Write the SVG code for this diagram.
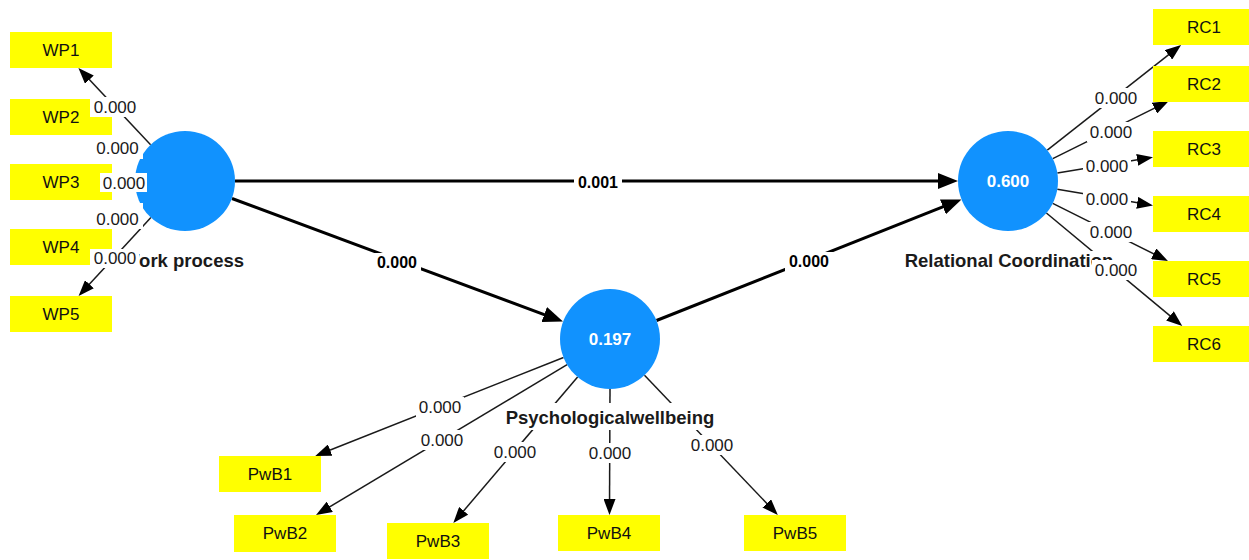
<svg xmlns="http://www.w3.org/2000/svg" width="1249" height="560" viewBox="0 0 1249 560">
<style>
text{font-family:"Liberation Sans",Arial,sans-serif}
.ind{fill:#ffff00}
.it{font-size:17px;fill:#111;text-anchor:middle}
.lv{fill:#1192fe}
.lvt{font-size:17px;font-weight:bold;fill:#fff;text-anchor:middle}
.nm{font-size:18.5px;font-weight:bold;fill:#1a1a1a;text-anchor:middle}
.thin{stroke:#1a1a1a;stroke-width:1.5;fill:none;marker-end:url(#ah)}
.thick{stroke:#000;stroke-width:3;fill:none;marker-end:url(#ahb)}
.bg{fill:#fff}
.lt{font-size:17px;fill:#1a1a1a;text-anchor:middle}
.ltb{font-size:16px;font-weight:bold;fill:#000;text-anchor:middle}
</style>
<defs>
<marker id="ah" markerUnits="userSpaceOnUse" markerWidth="16" markerHeight="12" refX="8" refY="6" orient="auto"><path d="M0,0 L16,6 L0,12 z" fill="#000"/></marker>
<marker id="ahb" markerUnits="userSpaceOnUse" markerWidth="20" markerHeight="16" refX="10" refY="8" orient="auto"><path d="M0,0 L20,8 L0,16 z" fill="#000"/></marker>
</defs>
<rect width="1249" height="560" fill="#fff"/>
<g id="connectors">
<line class="thick" x1="235" y1="181" x2="948" y2="181"/>
<line class="thick" x1="232" y1="198.5" x2="553.6" y2="318.1"/>
<line class="thick" x1="656.5" y1="320.5" x2="952.2" y2="203.2"/>
<line class="thin" x1="150.6" y1="144.7" x2="83.9" y2="73.8"/>
<line class="thin" x1="140.6" y1="158.1" x2="119.1" y2="147"/>
<line class="thin" x1="135" y1="181.4" x2="120" y2="181.5"/>
<line class="thin" x1="140.9" y1="204.5" x2="119.1" y2="216.1"/>
<line class="thin" x1="150.9" y1="217.6" x2="84" y2="290.1"/>
<line class="thin" x1="1047.3" y1="150.1" x2="1174.8" y2="49.9"/>
<line class="thin" x1="1052.8" y1="158.7" x2="1161.6" y2="104.6"/>
<line class="thin" x1="1057.4" y1="172.9" x2="1145.1" y2="158.6"/>
<line class="thin" x1="1057.3" y1="189.3" x2="1145.1" y2="204.1"/>
<line class="thin" x1="1052.7" y1="203.4" x2="1160.8" y2="257.4"/>
<line class="thin" x1="1046.4" y1="213" x2="1176.1" y2="320.9"/>
<line class="thin" x1="563.5" y1="357.5" x2="322.7" y2="453"/>
<line class="thin" x1="567.1" y1="364.7" x2="322.9" y2="510.9"/>
<line class="thin" x1="577.6" y1="377" x2="458.5" y2="516.9"/>
<line class="thin" x1="610" y1="389" x2="609.5" y2="507"/>
<line class="thin" x1="644.5" y1="375.2" x2="772.3" y2="509.2"/>
</g>
<g id="work-process">
<circle class="lv" cx="185" cy="181" r="50"/>
<text class="nm" x="183" y="267">Work process</text>
</g>
<g id="relational-coordination">
<circle class="lv" cx="1008" cy="181" r="50"/>
<text class="lvt" x="1008" y="187">0.600</text>
<rect class="bg" x="903" y="251" width="212" height="21"/>
<text class="nm" x="1009" y="267">Relational Coordination</text>
</g>
<g id="psychologicalwellbeing">
<circle class="lv" cx="610" cy="339" r="50"/>
<text class="lvt" x="610" y="345">0.197</text>
<rect class="bg" x="505" y="403" width="212" height="27"/>
<text class="nm" x="610" y="424">Psychologicalwellbeing</text>
</g>
<g id="WP1"><rect class="ind" x="10" y="32" width="102" height="36"/><text class="it" x="61" y="56">WP1</text></g>
<g id="WP2"><rect class="ind" x="10" y="99" width="102" height="36"/><text class="it" x="61" y="123">WP2</text></g>
<g id="WP3"><rect class="ind" x="10" y="164" width="102" height="36"/><text class="it" x="61" y="188">WP3</text></g>
<g id="WP4"><rect class="ind" x="10" y="229" width="102" height="36"/><text class="it" x="61" y="253">WP4</text></g>
<g id="WP5"><rect class="ind" x="10" y="296" width="102" height="36"/><text class="it" x="61" y="320">WP5</text></g>
<g id="RC1"><rect class="ind" x="1153" y="9" width="102" height="36"/><text class="it" x="1204" y="33">RC1</text></g>
<g id="RC2"><rect class="ind" x="1153" y="66" width="102" height="36"/><text class="it" x="1204" y="90">RC2</text></g>
<g id="RC3"><rect class="ind" x="1153" y="131" width="102" height="36"/><text class="it" x="1204" y="155">RC3</text></g>
<g id="RC4"><rect class="ind" x="1153" y="196" width="102" height="36"/><text class="it" x="1204" y="220">RC4</text></g>
<g id="RC5"><rect class="ind" x="1153" y="261" width="102" height="36"/><text class="it" x="1204" y="285">RC5</text></g>
<g id="RC6"><rect class="ind" x="1153" y="326" width="102" height="36"/><text class="it" x="1204" y="350">RC6</text></g>
<g id="PwB1"><rect class="ind" x="219" y="456" width="102" height="36"/><text class="it" x="270" y="480">PwB1</text></g>
<g id="PwB2"><rect class="ind" x="234" y="515" width="102" height="37"/><text class="it" x="285" y="539">PwB2</text></g>
<g id="PwB3"><rect class="ind" x="387" y="523" width="102" height="36"/><text class="it" x="438" y="547">PwB3</text></g>
<g id="PwB4"><rect class="ind" x="558" y="515" width="102" height="36"/><text class="it" x="609" y="539">PwB4</text></g>
<g id="PwB5"><rect class="ind" x="744" y="515" width="102" height="36"/><text class="it" x="795" y="539">PwB5</text></g>
<g id="connector-labels">
<rect class="bg" x="574" y="172" width="48" height="20"/><text class="ltb" x="598" y="188">0.001</text>
<rect class="bg" x="373" y="253" width="48" height="20"/><text class="ltb" x="397" y="268">0.000</text>
<rect class="bg" x="785" y="252" width="48" height="20"/><text class="ltb" x="809" y="267">0.000</text>
<rect class="bg" x="90" y="97" width="50" height="20"/><text class="lt" x="115" y="112.5">0.000</text>
<rect class="bg" x="94" y="138" width="49" height="21"/><text class="lt" x="117.5" y="154">0.000</text>
<rect class="bg" x="100" y="173" width="47" height="19"/><text class="lt" x="124" y="188.5">0.000</text>
<rect class="bg" x="94" y="203" width="49" height="26"/><text class="lt" x="117.5" y="225">0.000</text>
<rect class="bg" x="90" y="249" width="49" height="19"/><text class="lt" x="115" y="263.5">0.000</text>
<rect class="bg" x="1092" y="88" width="48" height="20"/><text class="lt" x="1116" y="104">0.000</text>
<rect class="bg" x="1087" y="122" width="48" height="20"/><text class="lt" x="1111" y="138">0.000</text>
<rect class="bg" x="1083" y="156" width="48" height="20"/><text class="lt" x="1107" y="172">0.000</text>
<rect class="bg" x="1083" y="189" width="48" height="20"/><text class="lt" x="1107" y="205">0.000</text>
<rect class="bg" x="1087" y="222" width="48" height="20"/><text class="lt" x="1111" y="238">0.000</text>
<rect class="bg" x="1092" y="260" width="48" height="20"/><text class="lt" x="1116" y="276">0.000</text>
<rect class="bg" x="416" y="397" width="48" height="20"/><text class="lt" x="440" y="413">0.000</text>
<rect class="bg" x="418" y="430" width="48" height="20"/><text class="lt" x="442" y="446">0.000</text>
<rect class="bg" x="491" y="442" width="48" height="20"/><text class="lt" x="515" y="458">0.000</text>
<rect class="bg" x="586" y="443" width="48" height="20"/><text class="lt" x="610" y="459">0.000</text>
<rect class="bg" x="688" y="435" width="48" height="20"/><text class="lt" x="712" y="451">0.000</text>
</g>
</svg>
